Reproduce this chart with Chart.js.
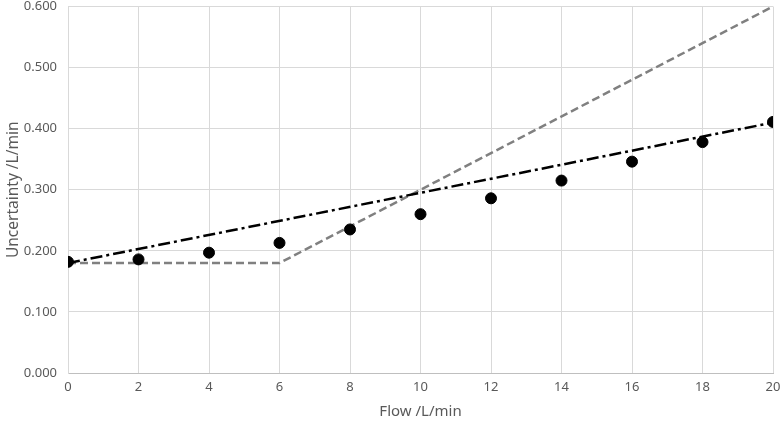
<!DOCTYPE html>
<html>
<head>
<meta charset="utf-8">
<script src="https://cdn.jsdelivr.net/npm/chart.js@4"></script>
<style>
  html, body { margin: 0; padding: 0; background: #fff; }
  #wrap { width: 782px; height: 425px; }
</style>
</head>
<body>
<div id="wrap"><canvas id="chart"></canvas></div>
<script>
// datos
const flujo = [0, 2, 4, 6, 8, 10, 12, 14, 16, 18, 20];
const incertidumbre = [0.182, 0.186, 0.197, 0.213, 0.235, 0.260, 0.286, 0.315, 0.346, 0.378, 0.411];
const ajusteX = [0, 20];
const ajusteY = [0.180, 0.410];
const limiteX = [0, 6, 20];
const limiteY = [0.180, 0.180, 0.600];
const ticksY = [0, 0.1, 0.2, 0.3, 0.4, 0.5, 0.6];

const aPuntos = (xs, ys) => xs.map((x, i) => ({ x: x, y: ys[i] }));

const ctx = document.getElementById('chart');
new Chart(ctx, {
    type: 'scatter',
    data: {
        datasets: [
            {
                label: 'Medido',
                data: aPuntos(flujo, incertidumbre),
                backgroundColor: '#000',
                borderColor: '#000',
                pointRadius: 5.5,
                pointHoverRadius: 5.5,
                showLine: false
            },
            {
                label: 'Ajuste',
                data: aPuntos(ajusteX, ajusteY),
                borderColor: '#000',
                borderWidth: 2.5,
                borderDash: [12, 4, 3, 4],
                pointRadius: 0,
                showLine: true
            },
            {
                label: 'Limite',
                data: aPuntos(limiteX, limiteY),
                borderColor: '#808080',
                borderWidth: 2.5,
                borderDash: [8, 4],
                pointRadius: 0,
                showLine: true
            }
        ]
    },
    options: {
        responsive: true,
        maintainAspectRatio: false,
        animation: false,
        layout: { padding: { top: 6, right: 9, left: 0, bottom: 0 } },
        plugins: { legend: { display: false }, tooltip: { enabled: false } },
        scales: {
            x: {
                type: 'linear',
                min: 0,
                max: 20,
                ticks: { stepSize: 2, color: '#595959', font: { family: 'Noto Sans', size: 13 }, padding: 6 },
                grid: { color: '#d9d9d9', drawTicks: false },
                border: { color: '#bfbfbf' },
                title: { display: true, text: 'Flow /L/min', color: '#595959', font: { family: 'Noto Sans', size: 15 }, padding: { top: 9 } },
                afterFit: (s) => { s.height = 52; s.paddingLeft = 0; s.paddingRight = 0; }
            },
            y: {
                min: 0,
                max: 0.6,
                afterBuildTicks: (s) => { s.ticks = ticksY.map(v => ({ value: v })); },
                ticks: {
                    color: '#595959',
                    font: { family: 'Noto Sans', size: 13 },
                    padding: 11,
                    callback: (v) => v.toFixed(3)
                },
                grid: { color: '#d9d9d9', drawTicks: false },
                border: { color: '#d9d9d9' },
                title: { display: true, text: 'Uncertainty /L/min', color: '#595959', font: { family: 'Noto Sans', size: 15.5 }, padding: { bottom: 2 } },
                afterFit: (s) => { s.width = 68; s.paddingTop = 0; s.paddingBottom = 0; }
            }
        }
    }
});
</script>
</body>
</html>
